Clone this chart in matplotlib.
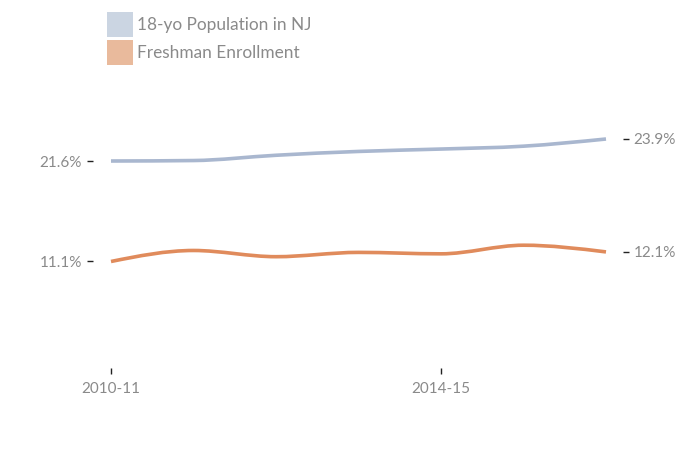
import numpy as np
import matplotlib
matplotlib.use("Agg")
import matplotlib.pyplot as plt
from matplotlib.path import Path
from matplotlib.patches import PathPatch, Rectangle

# data
years = ["2010-11", "2011-12", "2012-13", "2013-14", "2014-15", "2015-16", "2016-17"]
population = [21.6, 21.65, 22.2, 22.6, 22.85, 23.15, 23.9]
freshman = [11.1, 12.25, 11.6, 12.05, 11.9, 12.8, 12.1]
series_names = ["18-yo Population in NJ", "Freshman Enrollment"]
line_colors = ["#a9b7cf", "#e08b5c"]
legend_colors = ["#cbd5e2", "#e9ba9c"]
shown_years = ["2010-11", "2014-15"]

plt.rcParams['font.family'] = ['Lato', 'DejaVu Sans']
grey = "#8a8a8a"


def monotone_path(x, y):
    # monotone cubic (like d3.curveMonotoneX) drawn as bezier segments
    x = np.asarray(x, float)
    y = np.asarray(y, float)
    n = len(x)
    h = np.diff(x)
    s = np.diff(y) / h
    t = np.zeros(n)
    for i in range(1, n - 1):
        p = (s[i - 1] * h[i] + s[i] * h[i - 1]) / (h[i - 1] + h[i])
        t[i] = (np.sign(s[i - 1]) + np.sign(s[i])) * min(abs(s[i - 1]), abs(s[i]), 0.5 * abs(p))
    t[0] = (3 * s[0] - t[1]) / 2
    t[-1] = (3 * s[-1] - t[-2]) / 2
    verts = [(x[0], y[0])]
    codes = [Path.MOVETO]
    for i in range(n - 1):
        dx = (x[i + 1] - x[i]) / 3
        verts += [(x[i] + dx, y[i] + dx * t[i]),
                  (x[i + 1] - dx, y[i + 1] - dx * t[i + 1]),
                  (x[i + 1], y[i + 1])]
        codes += [Path.CURVE4] * 3
    return Path(verts, codes)


W, H = 700, 450
fig = plt.figure(figsize=(7, 4.5), dpi=100)
ax = fig.add_axes([111 / W, 82.3 / H, 495 / W, 228.7 / H])

xs = np.arange(len(years))
for vals, col in zip([population, freshman], line_colors):
    ax.add_patch(PathPatch(monotone_path(xs, vals), facecolor="none",
                           edgecolor=col, lw=2.6, clip_on=False, capstyle="butt"))

ax.set_xlim(0, len(years) - 1)
ax.set_ylim(0, 23.9)

for sp in ax.spines.values():
    sp.set_visible(False)

tick_kw = dict(direction="out", length=4.5, width=1.0, color="#222",
               labelsize=11, labelcolor=grey)

ax.set_xticks([years.index(y) for y in shown_years])
ax.set_xticklabels(shown_years)
ax.tick_params(axis="x", pad=5.5, **tick_kw)

# spine offsets are in points (1px = 0.72pt at 100 dpi)
ax.set_yticks([population[0], freshman[0]])
ax.set_yticklabels([f"{population[0]}%", f"{freshman[0]}%"])
ax.spines["left"].set_position(("outward", 13))
ax.tick_params(axis="y", pad=3.5, **tick_kw)

ax2 = ax.twinx()
ax2.set_ylim(ax.get_ylim())
for sp in ax2.spines.values():
    sp.set_visible(False)
ax2.spines["right"].set_position(("outward", 12))
ax2.set_yticks([population[-1], freshman[-1]])
ax2.set_yticklabels([f"{population[-1]}%", f"{freshman[-1]}%"])
ax2.tick_params(axis="y", pad=3.5, **tick_kw)

# legend: coloured squares + labels (pixel layout, top-left origin)
for i, (name, col) in enumerate(zip(series_names, legend_colors)):
    top = 12 + i * 28
    fig.add_artist(Rectangle((107 / W, 1 - (top + 25) / H), 26 / W, 25 / H,
                             transform=fig.transFigure, facecolor=col, edgecolor="none"))
    fig.text(137 / W, 1 - (top + 13) / H, name, fontsize=12.4, color=grey,
             ha="left", va="center")

fig.savefig("out.png", dpi=100)
